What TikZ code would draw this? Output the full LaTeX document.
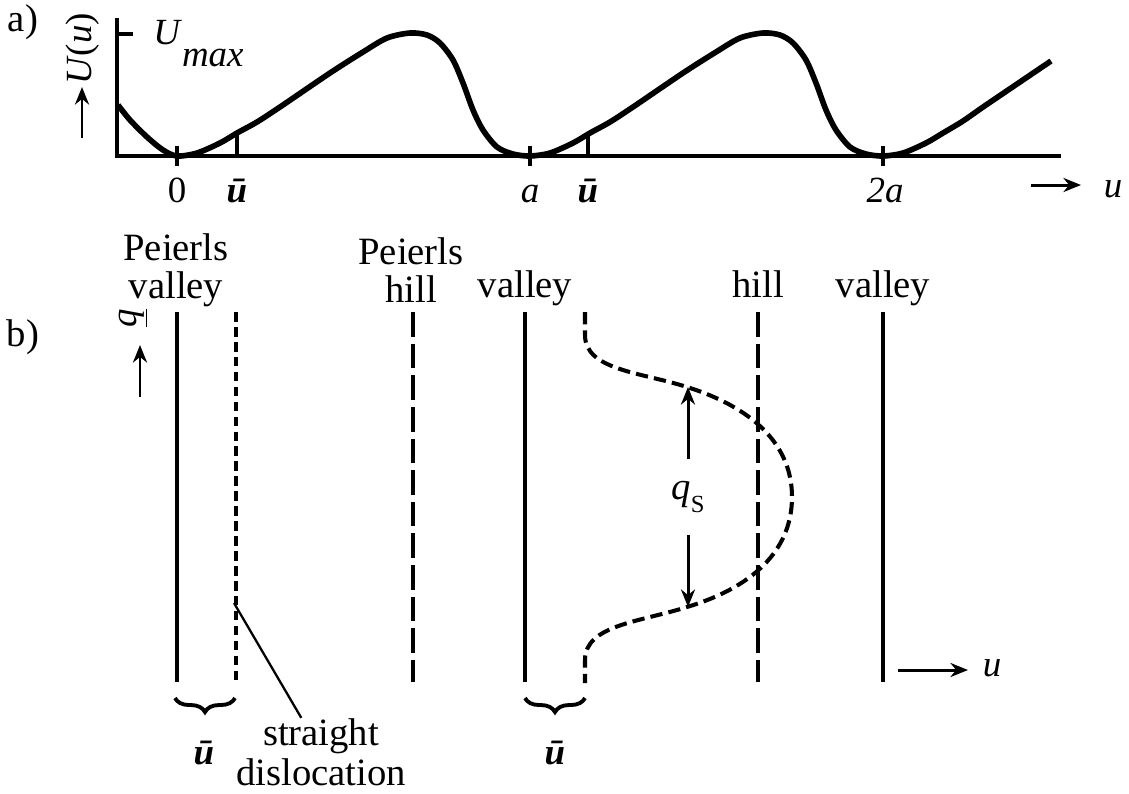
\documentclass[tikz,border=0pt]{standalone}
\usepackage{fontspec}
\setmainfont{Liberation Serif}
\usepackage{tikz}
\usetikzlibrary{arrows.meta,decorations.pathreplacing}

\begin{document}
\begin{tikzpicture}[x=0.2mm,y=-0.2mm,
			ax/.style={line width=2pt},
			pot/.style={line width=3.2pt,line join=round},
			valley/.style={line width=2.4pt},
			hill/.style={line width=2.2pt,dash pattern=on 14pt off 4pt},
			disl/.style={line width=2.2pt,dash pattern=on 5.5pt off 3pt},
			kink/.style={line width=2.3pt,dash pattern=on 7pt off 3.5pt},
			arr/.style={-{Stealth[length=10pt,width=8pt]},line width=1.7pt},
			lbl/.style={inner sep=0pt,align=center,font=\fontsize{22}{21.5}\selectfont},
			axl/.style={inner sep=0pt,anchor=base,font=\fontsize{21}{22}\selectfont}]
			\useasboundingbox (0,0) rectangle (1129,793);
			
			% a) Peierls potential
			\node[lbl] (pa) at (23,22) {a)};
			\draw[ax] (117,18) -- (117,156) -- (1061,156);
			\draw[ax] (117,34) -- (133,34);
			\draw[ax] (177,146) -- (177,166);
			\draw[ax] (530,146) -- (530,166);
			\draw[ax] (883,146) -- (883,166);
			\draw[ax] (237,156) -- (237,133);
			\draw[ax] (588,156) -- (588,134);
			
			\draw[pot] plot[smooth,tension=0.5] coordinates {(118,105) (130,120) (147,137) (163,150) (177,156)
				(197,153) (220,143) (237,133) (257,122) (280,107) (330,73) (363,52) (387,38) (410,33) (427,35)
				(440,43) (453,60) (463,83) (473,110) (483,130) (497,147) (513,154) (530,156)
				(550,153) (573,143) (590,133) (610,122) (633,107) (683,73) (716,52) (740,38) (763,33) (780,35)
				(793,43) (806,60) (816,83) (826,110) (836,130) (850,147) (866,154) (883,156)
				(903,153) (926,143) (943,133) (963,121) (986,105) (1051,61)};
			
			\node[inner sep=0pt,anchor=base west,font=\fontsize{21}{22}\selectfont] (umax) at (153,44)
				{\textit{U}\raisebox{-0.62em}{\textit{max}}};
			\node[rotate=90,inner sep=0pt,font=\fontsize{21}{22}\selectfont] (uu) at (83,49) {\textit{U}(\textit{u})};
			\coordinate (uu0) at (82,138);
			\coordinate (uu1) at (82,87);
			\draw[arr] (uu0) -- (uu1);
			
			\node[axl] (t0) at (177,202) {0};
			\node[axl] (tu1) at (237,202) {\textbf{\textit{ū}}};
			\node[axl] (ta) at (530,202) {\textit{a}};
			\node[axl] (tu2) at (588,202) {\textbf{\textit{ū}}};
			\node[axl] (t2a) at (885,202) {\textit{2a}};
			\node[axl] (ua) at (1113,197) {\textit{u}};
			\coordinate (ua0) at (1031,185);
			\coordinate (ua1) at (1081,185);
			\draw[arr] (ua0) -- (ua1);
			
			% b) dislocation in the valleys
			\node[lbl] (pb) at (23,337) {b)};
			\node[lbl] (pv1) at (176,270) {Peierls\\valley};
			\node[lbl] (ph1) at (411,270) {Peierls\\hill};
			\node[lbl,anchor=base] (pv2) at (525,297) {valley};
			\node[lbl,anchor=base] (ph2) at (758,297) {hill};
			\node[lbl,anchor=base] (pv3) at (883,297) {valley};
			
			\draw[valley] (177,312) -- (177,682);
			\draw[valley] (525,312) -- (525,682);
			\draw[valley] (883,312) -- (883,682);
			\draw[hill] (413,312) -- (413,682);
			\draw[hill] (758,312) -- (758,682);
			\draw[disl] (236,312) -- (236,682);
			\draw[kink] (585,312) -- (585,335) .. controls (585,370) and (640,372) .. (687,387)
				.. controls (760,410) and (792,450) .. (792,497)
				.. controls (792,545) and (760,585) .. (687,607)
				.. controls (640,622) and (585,625) .. (585,660) -- (585,683);
			
			\node[rotate=90,inner sep=0pt,font=\fontsize{21}{22}\selectfont] (qq) at (133,318) {\underline{\textit{q}}};
			\coordinate (qq0) at (140,397);
			\coordinate (qq1) at (140,345);
			\draw[arr] (qq0) -- (qq1);
			
			\node[inner sep=0pt,minimum height=1.5cm,font=\fontsize{22}{22}\selectfont] (qs) at (688,497)
				{\textit{q}\raisebox{-7pt}{\fontsize{14}{14}\selectfont S}};
			\coordinate (qt) at (688,387);
			\coordinate (qb) at (688,607);
			\draw[arr] (qs.north) -- (qt);
			\draw[arr] (qs.south) -- (qb);
			
			\coordinate (br1l) at (175,698);
			\coordinate (br1r) at (235,698);
			\coordinate (br2l) at (525,698);
			\coordinate (br2r) at (585,698);
			\draw[line width=2.2pt,decorate,decoration={brace,mirror,amplitude=8pt}] (br1l) -- (br1r);
			\draw[line width=2.2pt,decorate,decoration={brace,mirror,amplitude=8pt}] (br2l) -- (br2r);
			\node[axl] (ub1) at (204,764) {\textbf{\textit{ū}}};
			\node[axl] (ub2) at (555,764) {\textbf{\textit{ū}}};
			
			\node[lbl,font=\fontsize{22}{23}\selectfont] (sdl) at (321,752) {straight\\dislocation};
			\coordinate (sd) at (234,603);
			\draw[line width=1.3pt] (sd) -- (sdl.120);
			
			\node[axl] (ub) at (992,676) {\textit{u}};
			\coordinate (ub0) at (898,670);
			\coordinate (ub1) at (968,670);
			\draw[arr] (ub0) -- (ub1);
		\end{tikzpicture}
\end{document}
